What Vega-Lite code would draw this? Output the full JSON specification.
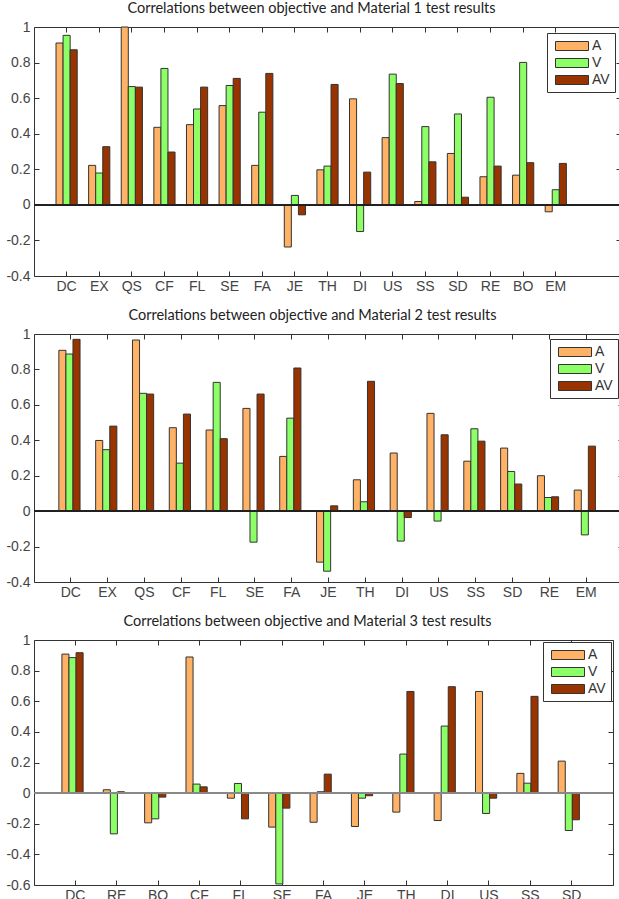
{
  "$schema": "https://vega.github.io/schema/vega-lite/v6.json",
  "padding": {"left": 5, "top": 0, "right": 0, "bottom": 0},
  "background": "white",
  "spacing": 13,
  "config": {
    "font": "Liberation Sans",
    "view": {"stroke": "#333", "strokeWidth": 1},
    "title": {"font": "Lato", "fontSize": 14.5, "fontWeight": "normal", "color": "#222", "offset": 4},
    "axis": {"grid": false, "domain": false, "tickColor": "#333", "tickSize": -5, "labelFont": "Liberation Sans", "labelFontSize": 14, "labelColor": "#444", "title": null, "labelPadding": 9},
    "legend": {"orient": "top-right", "offset": 6, "fillColor": "white", "strokeColor": "#333", "padding": 5, "symbolType": "M-2.2,-0.6H2.2V0.6H-2.2Z", "symbolSize": 225, "symbolOffset": 12, "symbolStrokeColor": "#333", "symbolStrokeWidth": 1, "labelFont": "Liberation Sans", "labelFontSize": 14, "labelColor": "#333", "labelOffset": 12, "rowPadding": 2, "title": null}
  },
  "datasets": {
    "m1": [
      {"c":"DC","s":"A","v":0.91},{"c":"DC","s":"V","v":0.953},{"c":"DC","s":"AV","v":0.872},
      {"c":"EX","s":"A","v":0.222},{"c":"EX","s":"V","v":0.179},{"c":"EX","s":"AV","v":0.327},
      {"c":"QS","s":"A","v":1.0},{"c":"QS","s":"V","v":0.665},{"c":"QS","s":"AV","v":0.662},
      {"c":"CF","s":"A","v":0.436},{"c":"CF","s":"V","v":0.767},{"c":"CF","s":"AV","v":0.297},
      {"c":"FL","s":"A","v":0.451},{"c":"FL","s":"V","v":0.539},{"c":"FL","s":"AV","v":0.662},
      {"c":"SE","s":"A","v":0.558},{"c":"SE","s":"V","v":0.671},{"c":"SE","s":"AV","v":0.711},
      {"c":"FA","s":"A","v":0.222},{"c":"FA","s":"V","v":0.521},{"c":"FA","s":"AV","v":0.739},
      {"c":"JE","s":"A","v":-0.237},{"c":"JE","s":"V","v":0.053},{"c":"JE","s":"AV","v":-0.056},
      {"c":"TH","s":"A","v":0.197},{"c":"TH","s":"V","v":0.218},{"c":"TH","s":"AV","v":0.677},
      {"c":"DI","s":"A","v":0.596},{"c":"DI","s":"V","v":-0.15},{"c":"DI","s":"AV","v":0.184},
      {"c":"US","s":"A","v":0.378},{"c":"US","s":"V","v":0.735},{"c":"US","s":"AV","v":0.682},
      {"c":"SS","s":"A","v":0.019},{"c":"SS","s":"V","v":0.44},{"c":"SS","s":"AV","v":0.242},
      {"c":"SD","s":"A","v":0.289},{"c":"SD","s":"V","v":0.511},{"c":"SD","s":"AV","v":0.043},
      {"c":"RE","s":"A","v":0.158},{"c":"RE","s":"V","v":0.605},{"c":"RE","s":"AV","v":0.218},
      {"c":"BO","s":"A","v":0.167},{"c":"BO","s":"V","v":0.801},{"c":"BO","s":"AV","v":0.237},
      {"c":"EM","s":"A","v":-0.039},{"c":"EM","s":"V","v":0.085},{"c":"EM","s":"AV","v":0.233}
    ],
    "m2": [
      {"c":"DC","s":"A","v":0.908},{"c":"DC","s":"V","v":0.887},{"c":"DC","s":"AV","v":0.97},
      {"c":"EX","s":"A","v":0.399},{"c":"EX","s":"V","v":0.347},{"c":"EX","s":"AV","v":0.48},
      {"c":"QS","s":"A","v":0.966},{"c":"QS","s":"V","v":0.665},{"c":"QS","s":"AV","v":0.661},
      {"c":"CF","s":"A","v":0.471},{"c":"CF","s":"V","v":0.271},{"c":"CF","s":"AV","v":0.548},
      {"c":"FL","s":"A","v":0.458},{"c":"FL","s":"V","v":0.727},{"c":"FL","s":"AV","v":0.409},
      {"c":"SE","s":"A","v":0.58},{"c":"SE","s":"V","v":-0.175},{"c":"SE","s":"AV","v":0.661},
      {"c":"FA","s":"A","v":0.309},{"c":"FA","s":"V","v":0.525},{"c":"FA","s":"AV","v":0.808},
      {"c":"JE","s":"A","v":-0.288},{"c":"JE","s":"V","v":-0.339},{"c":"JE","s":"AV","v":0.03},
      {"c":"TH","s":"A","v":0.177},{"c":"TH","s":"V","v":0.053},{"c":"TH","s":"AV","v":0.733},
      {"c":"DI","s":"A","v":0.328},{"c":"DI","s":"V","v":-0.169},{"c":"DI","s":"AV","v":-0.036},
      {"c":"US","s":"A","v":0.552},{"c":"US","s":"V","v":-0.056},{"c":"US","s":"AV","v":0.431},
      {"c":"SS","s":"A","v":0.282},{"c":"SS","s":"V","v":0.465},{"c":"SS","s":"AV","v":0.395},
      {"c":"SD","s":"A","v":0.356},{"c":"SD","s":"V","v":0.224},{"c":"SD","s":"AV","v":0.153},
      {"c":"RE","s":"A","v":0.2},{"c":"RE","s":"V","v":0.077},{"c":"RE","s":"AV","v":0.081},
      {"c":"EM","s":"A","v":0.119},{"c":"EM","s":"V","v":-0.134},{"c":"EM","s":"AV","v":0.367}
    ],
    "m3": [
      {"c":"DC","s":"A","v":0.908},{"c":"DC","s":"V","v":0.885},{"c":"DC","s":"AV","v":0.917},
      {"c":"RE","s":"A","v":0.022},{"c":"RE","s":"V","v":-0.266},{"c":"RE","s":"AV","v":0.009},
      {"c":"BO","s":"A","v":-0.194},{"c":"BO","s":"V","v":-0.168},{"c":"BO","s":"AV","v":-0.026},
      {"c":"CF","s":"A","v":0.889},{"c":"CF","s":"V","v":0.059},{"c":"CF","s":"AV","v":0.041},
      {"c":"FL","s":"A","v":-0.033},{"c":"FL","s":"V","v":0.063},{"c":"FL","s":"AV","v":-0.168},
      {"c":"SE","s":"A","v":-0.222},{"c":"SE","s":"V","v":-0.593},{"c":"SE","s":"AV","v":-0.098},
      {"c":"FA","s":"A","v":-0.19},{"c":"FA","s":"V","v":0.009},{"c":"FA","s":"AV","v":0.124},
      {"c":"JE","s":"A","v":-0.218},{"c":"JE","s":"V","v":-0.033},{"c":"JE","s":"AV","v":-0.017},
      {"c":"TH","s":"A","v":-0.124},{"c":"TH","s":"V","v":0.255},{"c":"TH","s":"AV","v":0.664},
      {"c":"DI","s":"A","v":-0.179},{"c":"DI","s":"V","v":0.438},{"c":"DI","s":"AV","v":0.695},
      {"c":"US","s":"A","v":0.664},{"c":"US","s":"V","v":-0.133},{"c":"US","s":"AV","v":-0.033},
      {"c":"SS","s":"A","v":0.129},{"c":"SS","s":"V","v":0.065},{"c":"SS","s":"AV","v":0.632},
      {"c":"SD","s":"A","v":0.209},{"c":"SD","s":"V","v":-0.244},{"c":"SD","s":"AV","v":-0.174}
    ]
  },
  "resolve": {"scale": {"color": "independent"}, "legend": {"color": "independent"}},
  "vconcat": [
    {
      "title": {"text": "Correlations between objective and Material 1 test results", "dx": -16},
      "width": 587, "height": 249,
      "data": {"name": "m1"},
      "resolve": {"axis": {"x": "independent", "y": "independent"}},
      "layer": [
        {
          "mark": {"type": "bar", "stroke": "#333", "strokeWidth": 1},
          "encoding": {
            "x": {"field": "c", "type": "nominal", "sort": null,
                  "scale": {"domain": ["DC","EX","QS","CF","FL","SE","FA","JE","TH","DI","US","SS","SD","RE","BO","EM","_"], "paddingInner": 0.35, "paddingOuter": 0.675},
                  "axis": {"values": ["DC","EX","QS","CF","FL","SE","FA","JE","TH","DI","US","SS","SD","RE","BO","EM"], "labelAngle": 0, "labelPadding": 8}},
            "xOffset": {"field": "s", "type": "nominal", "sort": ["A","V","AV"], "scale": {"paddingInner": 0, "paddingOuter": 0}},
            "y": {"field": "v", "type": "quantitative", "scale": {"domain": [-0.4, 1], "nice": false, "zero": false},
                  "axis": {"values": [-0.4,-0.2,0,0.2,0.4,0.6,0.8,1], "format": ".1~f", "labelExpr": "replace(datum.label, '\u2212', '-')"}},
            "color": {"field": "s", "type": "nominal", "scale": {"domain": ["A","V","AV"], "range": ["#FFB266","#8CFF66","#993300"]}, "legend": {"values": ["A","V","AV"]}}
          }
        },
        {
          "mark": {"type": "bar", "opacity": 0},
          "encoding": {
            "x": {"field": "c", "type": "nominal", "sort": null, "axis": {"orient": "top", "labels": false, "values": ["DC","EX","QS","CF","FL","SE","FA","JE","TH","DI","US","SS","SD","RE","BO","EM"]}},
            "xOffset": {"field": "s", "type": "nominal", "sort": ["A","V","AV"]},
            "y": {"field": "v", "type": "quantitative", "axis": {"orient": "right", "labels": false, "values": [-0.4,-0.2,0,0.2,0.4,0.6,0.8,1]}}
          }
        },
        {
          "mark": {"type": "rule", "color": "#222", "strokeWidth": 1},
          "encoding": {"y": {"datum": 0, "type": "quantitative", "axis": null}}
        }
      ]
    },
    {
      "title": {"text": "Correlations between objective and Material 2 test results", "dx": -16},
      "width": 589, "height": 248,
      "data": {"name": "m2"},
      "resolve": {"axis": {"x": "independent", "y": "independent"}},
      "layer": [
        {
          "mark": {"type": "bar", "stroke": "#333", "strokeWidth": 1},
          "encoding": {
            "x": {"field": "c", "type": "nominal", "sort": null,
                  "scale": {"domain": ["DC","EX","QS","CF","FL","SE","FA","JE","TH","DI","US","SS","SD","RE","EM"], "paddingInner": 0.35, "paddingOuter": 0.675},
                  "axis": {"labelAngle": 0, "labelPadding": 8}},
            "xOffset": {"field": "s", "type": "nominal", "sort": ["A","V","AV"], "scale": {"paddingInner": 0, "paddingOuter": 0}},
            "y": {"field": "v", "type": "quantitative", "scale": {"domain": [-0.4, 1], "nice": false, "zero": false},
                  "axis": {"values": [-0.4,-0.2,0,0.2,0.4,0.6,0.8,1], "format": ".1~f", "labelExpr": "replace(datum.label, '\u2212', '-')"}},
            "color": {"field": "s", "type": "nominal", "scale": {"domain": ["A","V","AV"], "range": ["#FFB266","#8CFF66","#993300"]}, "legend": {"values": ["A","V","AV"], "offset": 5}}
          }
        },
        {
          "mark": {"type": "bar", "opacity": 0},
          "encoding": {
            "x": {"field": "c", "type": "nominal", "sort": null, "axis": {"orient": "top", "labels": false}},
            "xOffset": {"field": "s", "type": "nominal", "sort": ["A","V","AV"]},
            "y": {"field": "v", "type": "quantitative", "axis": {"orient": "right", "labels": false, "values": [-0.4,-0.2,0,0.2,0.4,0.6,0.8,1]}}
          }
        },
        {
          "mark": {"type": "rule", "color": "#222", "strokeWidth": 1},
          "encoding": {"y": {"datum": 0, "type": "quantitative", "axis": null}}
        }
      ]
    },
    {
      "title": {"text": "Correlations between objective and Material 3 test results", "dx": -16},
      "width": 579, "height": 245,
      "data": {"name": "m3"},
      "resolve": {"axis": {"x": "independent", "y": "independent"}},
      "layer": [
        {
          "mark": {"type": "bar", "stroke": "#333", "strokeWidth": 1},
          "encoding": {
            "x": {"field": "c", "type": "nominal", "sort": null,
                  "scale": {"domain": ["DC","RE","BO","CF","FL","SE","FA","JE","TH","DI","US","SS","SD"], "paddingInner": 0.35, "paddingOuter": 0.675},
                  "axis": {"labelAngle": 0, "labelPadding": 8}},
            "xOffset": {"field": "s", "type": "nominal", "sort": ["A","V","AV"], "scale": {"paddingInner": 0, "paddingOuter": 0}},
            "y": {"field": "v", "type": "quantitative", "scale": {"domain": [-0.6, 1], "nice": false, "zero": false},
                  "axis": {"values": [-0.6,-0.4,-0.2,0,0.2,0.4,0.6,0.8,1], "format": ".1~f", "labelExpr": "replace(datum.label, '\u2212', '-')"}},
            "color": {"field": "s", "type": "nominal", "scale": {"domain": ["A","V","AV"], "range": ["#FFB266","#8CFF66","#993300"]}, "legend": {"values": ["A","V","AV"], "offset": 2}}
          }
        },
        {
          "mark": {"type": "bar", "opacity": 0},
          "encoding": {
            "x": {"field": "c", "type": "nominal", "sort": null, "axis": {"orient": "top", "labels": false}},
            "xOffset": {"field": "s", "type": "nominal", "sort": ["A","V","AV"]},
            "y": {"field": "v", "type": "quantitative", "axis": {"orient": "right", "labels": false, "values": [-0.6,-0.4,-0.2,0,0.2,0.4,0.6,0.8,1]}}
          }
        },
        {
          "mark": {"type": "rule", "color": "#888", "strokeWidth": 1},
          "encoding": {"y": {"datum": 0, "type": "quantitative", "axis": null}}
        }
      ]
    }
  ]
}
